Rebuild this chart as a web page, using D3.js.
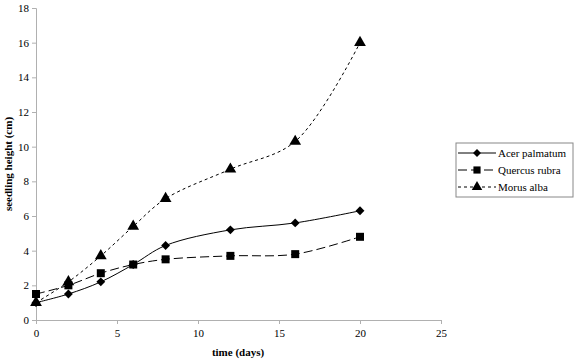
<!DOCTYPE html>
<html>
<head>
<meta charset="utf-8">
<script src="https://cdn.jsdelivr.net/npm/d3@7"></script>
<style>
  body { margin: 0; background: #fff; }
  svg text { font-family: 'Liberation Serif', 'Times New Roman', Times, 'DejaVu Serif', serif; }
</style>
</head>
<body>
<div id="chart"></div>
<script>
const days = [0, 2, 4, 6, 8, 12, 16, 20];
const acer = [1, 1.5, 2.2, 3.2, 4.3, 5.2, 5.6, 6.3];
const quercus = [1.5, 2, 2.7, 3.2, 3.5, 3.7, 3.8, 4.8];
const morus = [1, 2.2, 3.7, 5.4, 7, 8.7, 10.3, 16];
const xTicks = [0, 5, 10, 15, 20, 25];
const yTicks = [0, 2, 4, 6, 8, 10, 12, 14, 16, 18];

const series = [
  {name: 'Acer palmatum', values: acer, dash: null, symbol: d3.symbolDiamond2, size: 50},
  {name: 'Quercus rubra', values: quercus, dash: '9,4', symbol: d3.symbolSquare, size: 64},
  {name: 'Morus alba', values: morus, dash: '3,3', symbol: d3.symbolTriangle, size: 60}
];

const width = 577, height = 363;
const margin = {top: 8, left: 36};
const plotW = 405, plotH = 312;

const svg = d3.select('#chart').append('svg')
  .attr('width', width)
  .attr('height', height);

const g = svg.append('g')
  .attr('transform', `translate(${margin.left},${margin.top})`);

const x = d3.scaleLinear().domain([0, 25]).range([0, plotW]);
const y = d3.scaleLinear().domain([0, 18]).range([plotH, 0]);

const xAxis = g.append('g')
  .attr('transform', `translate(0,${plotH})`)
  .call(d3.axisBottom(x).tickValues(xTicks).tickSize(4).tickPadding(5));
const yAxis = g.append('g')
  .call(d3.axisLeft(y).tickValues(yTicks).tickSize(4).tickPadding(3));

[xAxis, yAxis].forEach(a => {
  a.attr('font-family', null);
  a.selectAll('path, line').attr('stroke', '#b0b0b0');
  a.selectAll('text').attr('font-size', 11).attr('fill', '#000');
});

const line = d3.line()
  .x((d, i) => x(days[i]))
  .y(d => y(d))
  .curve(d3.curveCatmullRom.alpha(0.5));

series.forEach(s => {
  g.append('path')
    .datum(s.values)
    .attr('d', line)
    .attr('fill', 'none')
    .attr('stroke', '#000')
    .attr('stroke-width', 1)
    .attr('stroke-dasharray', s.dash);

  g.selectAll(null)
    .data(s.values)
    .enter()
    .append('path')
    .attr('transform', (d, i) => `translate(${x(days[i])},${y(d)})`)
    .attr('d', d3.symbol().type(s.symbol).size(s.size)())
    .attr('fill', '#000');
});

// axis titles
svg.append('text')
  .attr('x', 238)
  .attr('y', 356)
  .attr('text-anchor', 'middle')
  .attr('font-size', 11)
  .attr('font-weight', 'bold')
  .text('time (days)');

svg.append('text')
  .attr('transform', 'translate(12,164) rotate(-90)')
  .attr('text-anchor', 'middle')
  .attr('font-size', 11)
  .attr('font-weight', 'bold')
  .text('seedling height (cm)');

// legend
const legend = svg.append('g').attr('transform', 'translate(456,143)');
legend.append('rect')
  .attr('width', 117)
  .attr('height', 54)
  .attr('fill', '#fff')
  .attr('stroke', '#888')
  .attr('stroke-width', 1);

series.forEach((s, i) => {
  const row = legend.append('g').attr('transform', `translate(0,${10 + i * 17})`);
  row.append('line')
    .attr('x1', 2).attr('x2', 40)
    .attr('stroke', '#000')
    .attr('stroke-dasharray', s.dash);
  row.append('path')
    .attr('transform', 'translate(21,0)')
    .attr('d', d3.symbol().type(s.symbol).size(s.size * 0.8)())
    .attr('fill', '#000');
  row.append('text')
    .attr('x', 42)
    .attr('y', 4)
    .attr('font-size', 11)
    .text(s.name);
});
</script>
</body>
</html>
